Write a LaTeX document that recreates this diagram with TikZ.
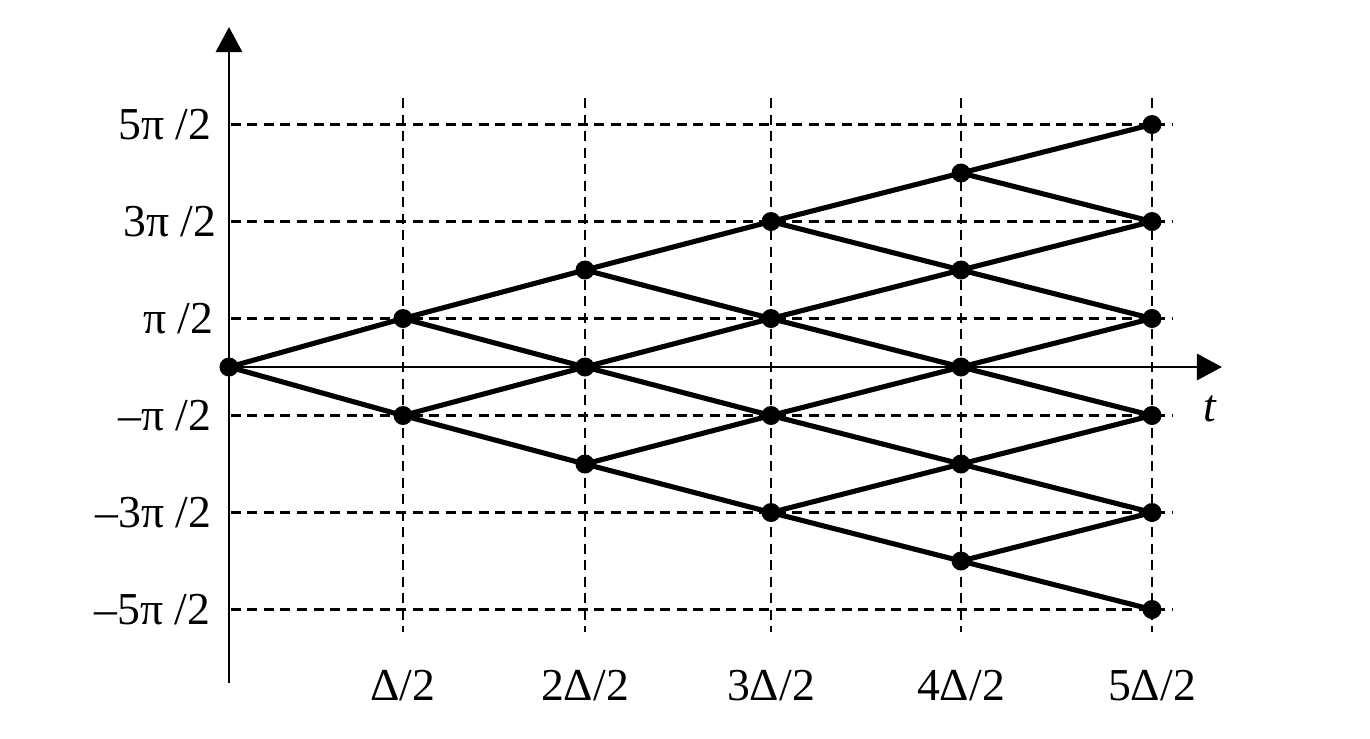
\documentclass[tikz,border=0pt]{standalone}
\usepackage{fontspec}
\setmainfont{Liberation Serif}
\usetikzlibrary{arrows.meta}

\tikzset{
  point/.style={circle, fill=black, inner sep=0pt, minimum size=0.19cm},
  branche/.style={line width=1.45pt},
  grille/.style={line width=0.85pt, dash pattern=on 0.1cm off 0.065cm},
  axe/.style={line width=0.85pt, -{Triangle[length=0.25cm,width=0.26cm]}},
  etiq/.style={inner sep=0pt, font=\fontsize{13}{15}\selectfont}
}

\begin{document}
\begin{tikzpicture}
    \useasboundingbox (-2.29,-3.71) rectangle (11.41,3.67);

    % Grille
    \foreach \m in {-5,-3,-1,1,3,5}
        \draw[grille] (0.02,\m*0.485) -- (9.43,\m*0.485);
    \foreach \x in {1.74,3.56,5.42,7.32,9.23}
        \draw[grille] (\x,2.69) -- (\x,-2.65);

    % Axes
    \coordinate (ybas) at (0,-3.16);
    \coordinate (yhaut) at (0,3.40);
    \coordinate (orig) at (0,0);
    \coordinate (xfin) at (9.93,0);
    \draw[axe] (ybas) -- (yhaut);
    \draw[axe] (orig) -- (xfin);
    \node[etiq, font=\fontsize{13}{15}\selectfont\itshape] (t) at (9.81,-0.42) {t};

    % Etiquettes des phases
    \node[etiq, anchor=east] (p5) at (-0.17,2.425) {5π /2};
    \node[etiq, anchor=east] (p3) at (-0.12,1.455) {3π /2};
    \node[etiq, anchor=east] (p1) at (-0.15,0.485) {π /2};
    \node[etiq, anchor=east] (m1) at (-0.17,-0.485) {–π /2};
    \node[etiq, anchor=east] (m3) at (-0.17,-1.455) {–3π /2};
    \node[etiq, anchor=east] (m5) at (-0.18,-2.425) {–5π /2};

    % Etiquettes des instants
    \node[etiq] (d1) at (1.74,-3.19) {Δ/2};
    \node[etiq] (d2) at (3.56,-3.19) {2Δ/2};
    \node[etiq] (d3) at (5.42,-3.19) {3Δ/2};
    \node[etiq] (d4) at (7.32,-3.19) {4Δ/2};
    \node[etiq] (d5) at (9.23,-3.19) {5Δ/2};

    % Points du treillis
    \foreach \k/\x in {0/0,1/1.74,2/3.56,3/5.42,4/7.32,5/9.23}
        \foreach \i in {0,...,\k} {
            \pgfmathtruncatemacro{\m}{2*\i-\k}
            \node[point] (n\k\i) at (\x,\m*0.485) {};
        }

    % Branches
    \foreach \k in {0,...,4}
        \foreach \i in {0,...,\k} {
            \pgfmathtruncatemacro{\kk}{\k+1}
            \pgfmathtruncatemacro{\ii}{\i+1}
            \draw[branche] (n\k\i.center) -- (n\kk\i.center);
            \draw[branche] (n\k\i.center) -- (n\kk\ii.center);
        }
\end{tikzpicture}
\end{document}
